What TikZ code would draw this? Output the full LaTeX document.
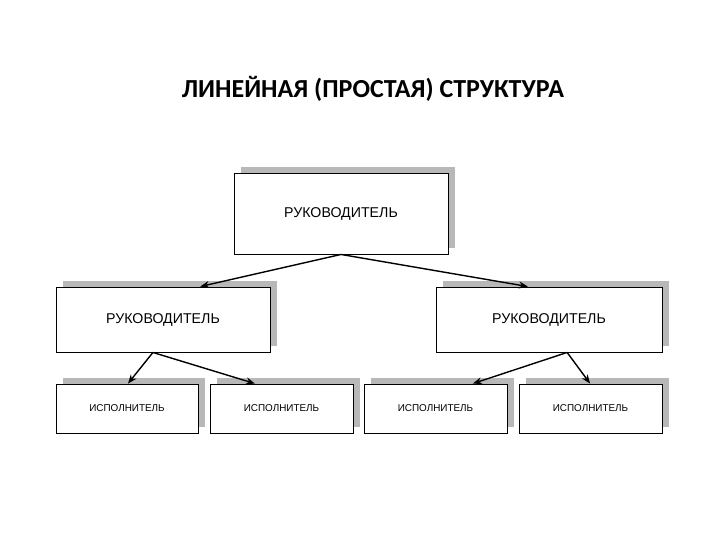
\documentclass[tikz,border=0pt]{standalone}
\usepackage{fontspec}
\setmainfont{Liberation Sans}
\newfontfamily\titlefont{Carlito}
\usetikzlibrary{shadows,calc,arrows.meta}
\tikzset{
  box/.style={draw=black, line width=0.9pt, fill=white, inner sep=0pt, font=\fontsize{14.2}{16}\selectfont,
    general shadow={fill=black!28, shadow xshift=7pt, shadow yshift=6pt}},
  smallbox/.style={box, font=\fontsize{9.9}{11}\selectfont},
  link/.style={line width=1.4pt, -{Stealth[length=9pt,width=7pt]}}
}
\begin{document}
\begin{tikzpicture}[x=1pt,y=-1pt]
\useasboundingbox (0,0) rectangle (720,540);
\node[font=\titlefont\bfseries\fontsize{26}{30}\selectfont] (title) at (373,89) {ЛИНЕЙНАЯ (ПРОСТАЯ) СТРУКТУРА};
\node[box, minimum width=214pt, minimum height=81pt] (top) at (341,213.5) {РУКОВОДИТЕЛЬ};
\node[box, minimum width=214pt, minimum height=65pt] (ml) at (163,319.5) {РУКОВОДИТЕЛЬ};
\node[box, minimum width=226pt, minimum height=65pt] (mr) at (549,319.5) {РУКОВОДИТЕЛЬ};
\node[smallbox, minimum width=142pt, minimum height=49pt] (b1) at (127,408.5) {ИСПОЛНИТЕЛЬ};
\node[smallbox, minimum width=143pt, minimum height=49pt] (b2) at (281.5,408.5) {ИСПОЛНИТЕЛЬ};
\node[smallbox, minimum width=143pt, minimum height=49pt] (b3) at (435.5,408.5) {ИСПОЛНИТЕЛЬ};
\node[smallbox, minimum width=143pt, minimum height=49pt] (b4) at (590.5,408.5) {ИСПОЛНИТЕЛЬ};
\draw[link] (top.south) -- ($(ml.north west)!0.673!(ml.north east)$);
\draw[link] (top.south) -- ($(mr.north west)!0.407!(mr.north east)$);
\coordinate (mls) at ($(ml.south west)!0.453!(ml.south east)$);
\coordinate (mrs) at ($(mr.south west)!0.58!(mr.south east)$);
\draw[link] (mls) -- ($(b1.north west)!0.507!(b1.north east)$);
\draw[link] (mls) -- ($(b2.north west)!0.315!(b2.north east)$);
\draw[link] (mrs) -- ($(b3.north west)!0.76!(b3.north east)$);
\draw[link] (mrs) -- ($(b4.north west)!0.497!(b4.north east)$);
\end{tikzpicture}
\end{document}
